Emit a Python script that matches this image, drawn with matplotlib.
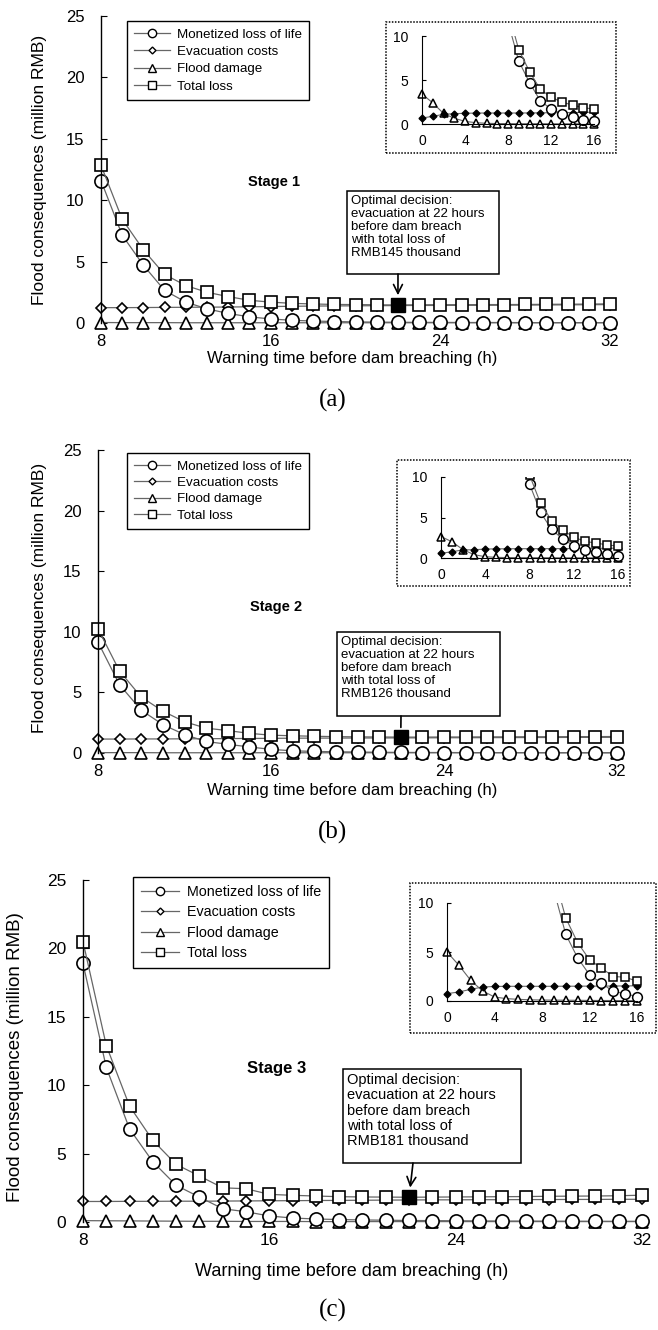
import matplotlib
matplotlib.use("Agg")
import matplotlib.pyplot as plt
from matplotlib.lines import Line2D
from matplotlib.patches import Rectangle

plt.rcParams['font.family'] = ['Liberation Sans', 'DejaVu Sans']

# Warning time (h): 0..32 for the inset, 8..32 for the main plots
hours_all = list(range(0, 33))
hours_main = list(range(8, 33))

# ---- Stage 1 (million RMB) ----
life_a = [11.6, 7.15, 4.7, 2.65, 1.7, 1.15, 0.78, 0.5, 0.33, 0.22, 0.16, 0.12, 0.09,
          0.07, 0.06, 0.05, 0.05, 0.04, 0.04, 0.04, 0.03, 0.03, 0.03, 0.03, 0.03]
total_a = [12.85, 8.45, 5.95, 3.95, 3.05, 2.5, 2.15, 1.85, 1.7, 1.6, 1.55, 1.51, 1.5,
           1.48, 1.47, 1.48, 1.49, 1.49, 1.5, 1.5, 1.51, 1.52, 1.53, 1.54, 1.56]
evac_a = [0.68, 0.87, 1.1, 1.17, 1.22, 1.24, 1.25, 1.25, 1.25, 1.25, 1.26, 1.27, 1.28,
          1.29, 1.3, 1.32, 1.34, 1.36, 1.38, 1.39, 1.4, 1.41, 1.42, 1.43, 1.43, 1.44,
          1.44, 1.45, 1.46, 1.47, 1.48, 1.49, 1.5]
flood_a = [3.4, 2.4, 1.2, 0.65, 0.3, 0.15, 0.08, 0.05, 0.04, 0.03, 0.03, 0.03, 0.02,
           0.02, 0.02, 0.02, 0.02, 0.02, 0.02, 0.02, 0.02, 0.02, 0.02, 0.02, 0.02, 0.02,
           0.02, 0.02, 0.02, 0.02, 0.02, 0.02, 0.02]

# ---- Stage 2 ----
life_b = [9.15, 5.62, 3.53, 2.34, 1.52, 0.95, 0.72, 0.5, 0.3, 0.18, 0.13, 0.1, 0.08,
          0.06, 0.05, 0.04, 0.04, 0.03, 0.03, 0.03, 0.03, 0.02, 0.02, 0.02, 0.02]
total_b = [10.25, 6.75, 4.62, 3.45, 2.58, 2.05, 1.85, 1.62, 1.47, 1.42, 1.38, 1.35, 1.33,
           1.32, 1.31, 1.31, 1.32, 1.32, 1.33, 1.33, 1.34, 1.34, 1.35, 1.35, 1.36]
evac_b = [0.57, 0.78, 1.0, 1.02, 1.1, 1.13, 1.14, 1.15, 1.15, 1.15, 1.16, 1.16, 1.17,
          1.18, 1.19, 1.2, 1.21, 1.22, 1.23, 1.23, 1.24, 1.24, 1.25, 1.25, 1.26, 1.26,
          1.27, 1.27, 1.28, 1.28, 1.29, 1.29, 1.3]
flood_b = [2.65, 2.0, 1.02, 0.41, 0.16, 0.08, 0.05, 0.04, 0.03, 0.03, 0.03, 0.02, 0.02,
           0.02, 0.02, 0.02, 0.02, 0.02, 0.02, 0.02, 0.02, 0.02, 0.02, 0.02, 0.02, 0.02,
           0.02, 0.02, 0.02, 0.02, 0.02, 0.02, 0.02]

# ---- Stage 3 ----
life_c = [18.9, 11.3, 6.8, 4.4, 2.68, 1.82, 0.97, 0.75, 0.44, 0.29, 0.22, 0.18, 0.15,
          0.13, 0.11, 0.1, 0.09, 0.08, 0.07, 0.07, 0.06, 0.06, 0.05, 0.05, 0.05]
total_c = [20.5, 12.9, 8.47, 5.96, 4.21, 3.36, 2.5, 2.43, 2.02, 1.95, 1.9, 1.85, 1.83,
           1.82, 1.81, 1.82, 1.83, 1.84, 1.85, 1.86, 1.88, 1.89, 1.9, 1.92, 1.96]
evac_c = [0.75, 0.92, 1.19, 1.43, 1.48, 1.5, 1.5, 1.5, 1.5, 1.5, 1.51, 1.51, 1.52,
          1.52, 1.53, 1.54, 1.55, 1.56, 1.57, 1.58, 1.59, 1.6, 1.61, 1.62, 1.62, 1.63,
          1.63, 1.64, 1.64, 1.65, 1.65, 1.66, 1.66]
flood_c = [5.0, 3.65, 2.1, 1.02, 0.41, 0.24, 0.17, 0.12, 0.1, 0.09, 0.08, 0.07, 0.06,
           0.05, 0.05, 0.04, 0.04, 0.04, 0.03, 0.03, 0.03, 0.03, 0.03, 0.03, 0.03, 0.03,
           0.03, 0.03, 0.03, 0.03, 0.03, 0.03, 0.03]

series_labels = ['Monetized loss of life', 'Evacuation costs', 'Flood damage', 'Total loss']
notes = ['RMB145 thousand', 'RMB126 thousand', 'RMB181 thousand']
stages = ['Stage 1', 'Stage 2', 'Stage 3']
letters = ['(a)', '(b)', '(c)']
optimal_hour = 22

W, H = 658, 1330
fig = plt.figure(figsize=(W / 100, H / 100), dpi=100)


def fx(px):
    return px / W


def fy(py):
    return 1 - py / H


def rect(x_lo, x_hi, y_lo, y_hi):
    """axes rect from pixel positions of the data limits"""
    return [fx(x_lo), fy(y_lo), (x_hi - x_lo) / W, (y_lo - y_hi) / H]


# pixel layout of each panel
layouts = [
    dict(main=(101, 610, 323, 16), inset=(422, 594, 124, 36), dots=(386, 616, 22, 153),
         legend=(127, 21), leg_fs=9.6, leg_sp=0.38, ylab=(40, 170), ylab_fs=12.5,
         xlab_y=358, letter_y=400, stage=(274, 182), stage_fs=10.5,
         box=(347, 499, 191, 274), note_fs=9.5, arrow_x=398, head='->', tick_fs=12),
    dict(main=(98, 617, 753, 450), inset=(441, 618, 558, 477), dots=(397, 630, 460, 586),
         legend=(127, 453), leg_fs=9.6, leg_sp=0.3, ylab=(40, 598), ylab_fs=12.5,
         xlab_y=790, letter_y=832, stage=(276, 607), stage_fs=10.5,
         box=(337, 500, 632, 716), note_fs=9.5, arrow_x=401, head='-', tick_fs=12),
    dict(main=(83, 642, 1222, 880), inset=(447, 637, 1001, 903), dots=(410, 656, 883, 1033),
         legend=(133, 877), leg_fs=10.3, leg_sp=0.45, ylab=(16, 1057), ylab_fs=13.5,
         xlab_y=1272, letter_y=1310, stage=(277, 1068), stage_fs=12,
         box=(343, 521, 1069, 1163), note_fs=10.5, arrow_x=413, head='->', tick_fs=12.5),
]
data = [(life_a, evac_a, flood_a, total_a),
        (life_b, evac_b, flood_b, total_b),
        (life_c, evac_c, flood_c, total_c)]

line_col = '0.4'

for k, (lay, (life, evac, flood, total)) in enumerate(zip(layouts, data)):
    # ---- main axes ----
    ax = fig.add_axes(rect(*lay['main']))
    ax.set_xlim(8, 32)
    ax.set_ylim(0, 25)
    ax.patch.set_alpha(0)
    for s in ['top', 'right', 'bottom']:
        ax.spines[s].set_visible(False)
    ax.spines['left'].set_linewidth(1.0)
    ax.set_xticks([8, 16, 24, 32])
    ax.set_yticks([0, 5, 10, 15, 20, 25])
    ax.tick_params(axis='x', length=0, pad=8, labelsize=lay['tick_fs'])
    ax.tick_params(axis='y', direction='in', length=4, pad=12, labelsize=lay['tick_fs'])

    st = dict(color=line_col, lw=0.9, mec='black', mfc='white', mew=1.2, clip_on=False)
    ax.plot(hours_main, flood[8:], marker='^', ms=8, **st)
    ax.plot(hours_main, evac[8:], marker='D', ms=5.5, **st)
    ax.plot(hours_main, life, marker='o', ms=9.5, **st)
    ax.plot(hours_main, total, marker='s', ms=9, **st)
    i22 = hours_main.index(optimal_hour)
    ax.plot(optimal_hour, total[i22], 's', ms=10, color='black', clip_on=False, zorder=5)

    # ---- inset ----
    axi = fig.add_axes(rect(*lay['inset']))
    axi.set_xlim(0, 16)
    axi.set_ylim(0, 10)
    axi.patch.set_alpha(0)
    for s in ['top', 'right']:
        axi.spines[s].set_visible(False)
    axi.set_xticks([0, 4, 8, 12, 16])
    axi.set_yticks([0, 5, 10])
    axi.tick_params(axis='x', length=0, pad=7, labelsize=10)
    axi.tick_params(axis='y', direction='in', length=3, pad=10, labelsize=10)
    clip = Rectangle((-2, -2), 20, 12, transform=axi.transData)
    sti = dict(color=line_col, lw=0.8, mec='black', mfc='white', mew=1.1)
    lines = []
    lines += axi.plot(hours_all[:17], flood[:17], marker='^', ms=6, **sti)
    lines += axi.plot(hours_all[:17], evac[:17], marker='D', ms=3.5,
                      color=line_col, lw=0.8, mec='black', mfc='black')
    lines += axi.plot(hours_main[:9], life[:9], marker='o', ms=7, **sti)
    lines += axi.plot(hours_main[:9], total[:9], marker='s', ms=5.5, **sti)
    for ln in lines:
        ln.set_clip_path(clip)

    x0, x1, y0, y1 = lay['dots']
    fig.add_artist(Rectangle((fx(x0), fy(y1)), (x1 - x0) / W, (y1 - y0) / H,
                             transform=fig.transFigure, fill=False, ec='black',
                             lw=1.1, ls=(0, (1, 1))))

    # ---- legend ----
    handles = [
        Line2D([], [], color=line_col, lw=0.9, marker='o', ms=6, mfc='white', mec='black'),
        Line2D([], [], color=line_col, lw=0.9, marker='D', ms=3.5, mfc='white', mec='black'),
        Line2D([], [], color=line_col, lw=0.9, marker='^', ms=6, mfc='white', mec='black'),
        Line2D([], [], color=line_col, lw=0.9, marker='s', ms=6, mfc='white', mec='black'),
    ]
    lx, ly = lay['legend']
    leg = fig.legend(handles, series_labels, loc='upper left',
                     bbox_to_anchor=(fx(lx), fy(ly)), borderaxespad=0,
                     fancybox=False, edgecolor='black', framealpha=1,
                     fontsize=lay['leg_fs'], handlelength=2.7, handletextpad=0.5,
                     labelspacing=lay['leg_sp'], borderpad=0.55)
    leg.get_frame().set_linewidth(1.0)

    # ---- annotation ----
    bx0, bx1, by0, by1 = lay['box']
    fig.add_artist(Rectangle((fx(bx0), fy(by1)), (bx1 - bx0) / W, (by1 - by0) / H,
                             transform=fig.transFigure, fill=False, ec='black', lw=1.1))
    fig.text(fx(bx0 + 4), fy(by0 + 4),
             'Optimal decision:\nevacuation at 22 hours\nbefore dam breach\n'
             'with total loss of\n' + notes[k],
             ha='left', va='top', fontsize=lay['note_fs'], linespacing=1.12)
    ax.annotate('', xy=(optimal_hour, total[i22]), xycoords='data',
                xytext=(fx(lay['arrow_x']), fy(by1)), textcoords='figure fraction',
                arrowprops=dict(arrowstyle=lay['head'], color='black', lw=1.2,
                                shrinkA=0, shrinkB=7, mutation_scale=16))

    # ---- labels ----
    sx, sy = lay['stage']
    fig.text(fx(sx), fy(sy), stages[k], ha='center', va='center',
             fontsize=lay['stage_fs'], fontweight='bold')
    fig.text(fx(lay['ylab'][0]), fy(lay['ylab'][1]), 'Flood consequences (million RMB)',
             rotation=90, ha='center', va='center', fontsize=lay['ylab_fs'])
    fig.text(fx(352), fy(lay['xlab_y']), 'Warning time before dam breaching (h)',
             ha='center', va='center', fontsize=lay['ylab_fs'] - 0.5)
    fig.text(fx(333), fy(lay['letter_y']), letters[k], ha='center', va='center',
             fontsize=18, family=['Liberation Serif', 'DejaVu Serif'])

fig.savefig('out.png', dpi=100)
